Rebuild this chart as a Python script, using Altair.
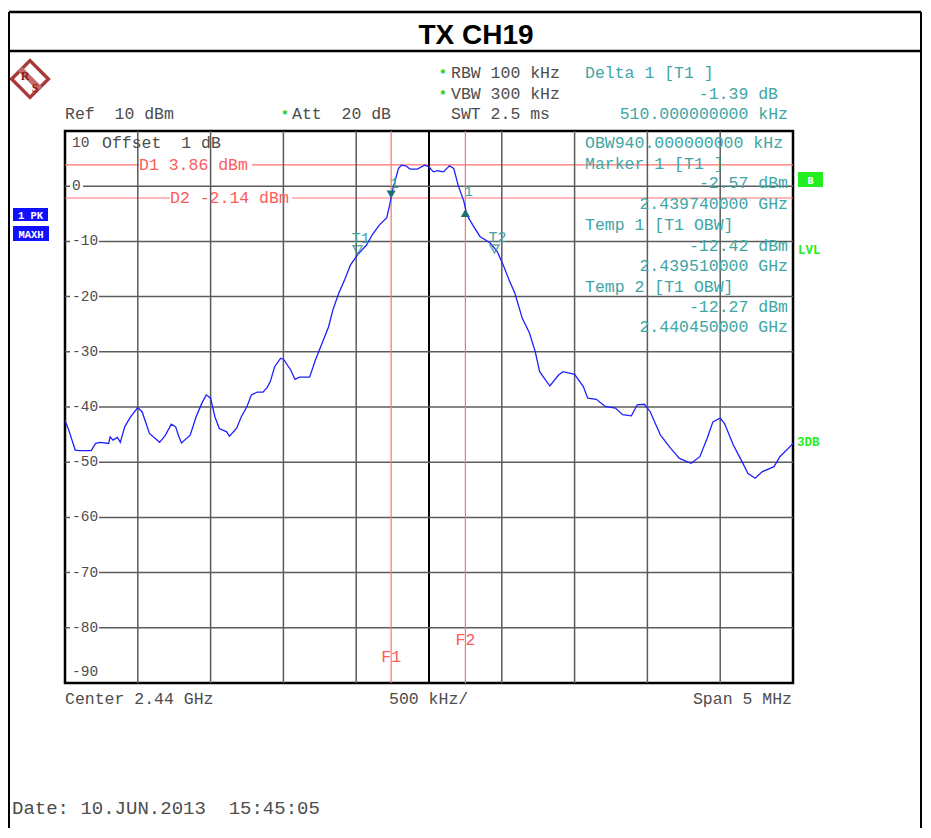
import altair as alt
import pandas as pd

# ---------------- data ----------------
freq_mhz = [2437.50, 2437.53, 2437.57, 2437.60, 2437.68, 2437.71, 2437.74, 2437.80, 2437.81, 2437.83,
            2437.86, 2437.88, 2437.91, 2437.95, 2438.00, 2438.03, 2438.08, 2438.15, 2438.19, 2438.23,
            2438.26, 2438.28, 2438.30, 2438.36, 2438.40, 2438.44, 2438.47, 2438.50, 2438.53, 2438.56,
            2438.61, 2438.63, 2438.68, 2438.71, 2438.75, 2438.78, 2438.82, 2438.86, 2438.89, 2438.91,
            2438.94, 2438.98, 2439.00, 2439.05, 2439.08, 2439.11, 2439.18, 2439.22, 2439.26, 2439.31,
            2439.34, 2439.38, 2439.42, 2439.46, 2439.51, 2439.57, 2439.61, 2439.66, 2439.71, 2439.73,
            2439.75, 2439.79, 2439.81, 2439.84, 2439.87, 2439.92, 2439.97, 2440.00, 2440.03, 2440.06,
            2440.10, 2440.14, 2440.17, 2440.20, 2440.24, 2440.26, 2440.30, 2440.35, 2440.42, 2440.47,
            2440.51, 2440.55, 2440.59, 2440.64, 2440.69, 2440.73, 2440.76, 2440.83, 2440.89, 2440.92,
            2441.00, 2441.06, 2441.09, 2441.15, 2441.21, 2441.28, 2441.33, 2441.39, 2441.43, 2441.48,
            2441.52, 2441.59, 2441.66, 2441.72, 2441.80, 2441.86, 2441.91, 2441.95, 2442.00, 2442.03,
            2442.09, 2442.15, 2442.19, 2442.24, 2442.29, 2442.37, 2442.41, 2442.49, 2442.50]
level_dbm = [-42.4, -44.5, -47.8, -47.9, -47.9, -46.6, -46.4, -46.6, -45.4, -46.0,
             -45.5, -46.4, -43.6, -41.8, -40.1, -40.9, -44.8, -46.4, -45.1, -43.1,
             -43.6, -45.2, -46.5, -45.1, -41.8, -39.3, -37.8, -38.4, -41.8, -43.9,
             -44.5, -45.3, -43.8, -41.8, -39.9, -37.8, -37.3, -37.3, -36.4, -35.4,
             -32.7, -31.2, -31.3, -33.3, -35.0, -34.6, -34.6, -31.5, -28.8, -25.5,
             -22.4, -19.4, -17.0, -14.3, -12.4, -10.7, -8.8, -7.0, -5.7, -3.4,
             -0.7, 3.2, 3.8, 3.7, 3.1, 3.1, 3.8, 3.5, 2.6, 2.8,
             2.6, 3.7, 3.2, 0.2, -2.8, -5.2, -7.0, -9.1, -10.3, -11.9,
             -14.3, -17.0, -19.4, -23.9, -26.6, -30.0, -33.6, -36.2, -34.2, -33.6,
             -34.1, -36.3, -38.4, -38.6, -39.9, -40.2, -41.4, -41.6, -39.6, -39.5,
             -40.9, -45.1, -47.5, -49.3, -50.2, -49.0, -45.7, -42.7, -42.0, -43.0,
             -46.9, -49.9, -52.0, -52.9, -51.7, -50.8, -49.0, -46.9, -46.5]

marker_label = ["T1", "T2", "1", "1"]
marker_freq = [2439.51, 2440.45, 2439.74, 2440.25]
marker_level = [-12.42, -12.27, -2.57, -3.96]

display_label = ["D1 3.86 dBm", "D2 -2.14 dBm"]
display_level = [3.86, -2.14]

freq_line_label = ["F1", "F2"]
freq_line_value = [2439.74, 2440.25]

grid_freq = [2438.0, 2438.5, 2439.0, 2439.5, 2440.5, 2441.0, 2441.5, 2442.0]
center_freq = [2440.0]
grid_level = [0, -10, -20, -30, -40, -50, -60, -70, -80]
ylabel_value = [0, -10, -20, -30, -40, -50, -60, -70, -80]
ylabel_text = ["0", "-10", "-20", "-30", "-40", "-50", "-60", "-70", "-80"]

# ---------------- layout ----------------
W, H = 728, 552
OX, OY = 65, 131           # page position of the plot area
MONO = "Liberation Mono"
GRAY = "#4d4d4d"
TEAL = "#3ea6a6"
RED = "#ff5a5a"
RED_LINE = "#ff7070"
GRID = "#5c5c5c"
SP = "\u00a0"

xs = alt.Scale(domain=[2437.5, 2442.5], nice=False, zero=False)
ys = alt.Scale(domain=[-90, 10], nice=False, zero=False)
ONE = pd.DataFrame({"d": [0]})


def nb(s):
    return s.replace(" ", SP)


def px_rule(x1, y1, x2, y2, color, width):
    return alt.Chart(ONE).mark_rule(color=color, strokeWidth=width).encode(
        x=alt.value(x1 - OX), y=alt.value(y1 - OY), x2=alt.value(x2 - OX), y2=alt.value(y2 - OY))


def px_rect(x1, y1, x2, y2, fill):
    return alt.Chart(ONE).mark_rect(fill=fill).encode(
        x=alt.value(x1 - OX), y=alt.value(y1 - OY), x2=alt.value(x2 - OX), y2=alt.value(y2 - OY))


def texts(rows, **kw):
    kw.setdefault("baseline", "alphabetic")
    df = pd.DataFrame({"t": [nb(r[0]) for r in rows],
                       "px": [r[1] - OX for r in rows],
                       "py": [r[2] - OY for r in rows]})
    return alt.Chart(df).mark_text(**kw).encode(
        x=alt.X("px:Q", scale=None, axis=None),
        y=alt.Y("py:Q", scale=None, axis=None),
        text="t:N")


trace = pd.DataFrame({"f": freq_mhz, "l": level_dbm})
markers = pd.DataFrame({"m": marker_label, "f": marker_freq, "l": marker_level})
dlines = pd.DataFrame({"lab": [nb(s) for s in display_label], "l": display_level,
                       "bx0": [139 - OX, 170 - OX], "bx1": [252 - OX, 292 - OX]})
flines = pd.DataFrame({"lab": freq_line_label, "f": freq_line_value})
vgrid = pd.DataFrame({"f": grid_freq})
cgrid = pd.DataFrame({"f": center_freq})
hgrid = pd.DataFrame({"l": grid_level})
ylab = pd.DataFrame({"v": ylabel_value, "t": ylabel_text})

layers = []

# display lines D1 / D2
layers.append(alt.Chart(dlines).mark_rule(color=RED_LINE, strokeWidth=1.2).encode(
    y=alt.Y("l:Q", scale=ys, axis=None), x=alt.value(0), x2=alt.value(W)))
layers.append(alt.Chart(dlines).transform_calculate(lo="datum.l - 1.2", hi="datum.l + 1.2")
              .mark_rect(fill="white").encode(
    x=alt.X("bx0:Q", scale=None, axis=None), x2="bx1:Q",
    y=alt.Y("lo:Q", scale=ys, axis=None), y2="hi:Q"))

# grid
layers.append(alt.Chart(vgrid).mark_rule(color=GRID, strokeWidth=1.5).encode(
    x=alt.X("f:Q", scale=xs, axis=None), y=alt.value(0), y2=alt.value(H)))
layers.append(alt.Chart(cgrid).mark_rule(color="black", strokeWidth=2).encode(
    x=alt.X("f:Q", scale=xs, axis=None), y=alt.value(0), y2=alt.value(H)))
layers.append(alt.Chart(hgrid).mark_rule(color=GRID, strokeWidth=1.5).encode(
    y=alt.Y("l:Q", scale=ys, axis=None), x=alt.value(0), x2=alt.value(W)))

# y labels with white background
layers.append(alt.Chart(ylab).transform_calculate(
    lo="datum.v - 1.25", hi="datum.v + 1.25",
    x1="5", x2="datum.t == '0' ? 18 : 34").mark_rect(fill="white").encode(
    x=alt.X("x1:Q", scale=None, axis=None), x2="x2:Q",
    y=alt.Y("lo:Q", scale=ys, axis=None), y2="hi:Q"))
layers.append(alt.Chart(ylab).mark_text(align="left", baseline="middle", font=MONO,
                                        fontSize=14.5, color=GRAY).encode(
    x=alt.value(72 - OX), y=alt.Y("v:Q", scale=ys, axis=None), text="t:N"))
layers.append(texts([("10", 72, 147), ("-90", 72, 676)], align="left", font=MONO,
                    fontSize=14.5, color=GRAY))

# frequency lines F1 / F2
layers.append(alt.Chart(flines).mark_rule(color=RED_LINE, strokeWidth=1.2).encode(
    x=alt.X("f:Q", scale=xs, axis=None), y=alt.value(0), y2=alt.value(H)))

# trace
layers.append(alt.Chart(trace).mark_line(color="#1f1fff", strokeWidth=1.3).encode(
    x=alt.X("f:Q", scale=xs, axis=None), y=alt.Y("l:Q", scale=ys, axis=None)))

# markers
mk = alt.Chart(markers)
layers.append(mk.transform_filter("datum.m != '1'").mark_point(
    shape="triangle-down", size=85, filled=False, color="#2a8a8a", strokeWidth=1.5, yOffset=-5).encode(
    x=alt.X("f:Q", scale=xs, axis=None), y=alt.Y("l:Q", scale=ys, axis=None)))
layers.append(mk.transform_filter("datum.f < 2440").transform_filter("datum.m == '1'").mark_point(
    shape="triangle-down", size=85, filled=True, opacity=1, color="#1f7070", yOffset=-6).encode(
    x=alt.X("f:Q", scale=xs, axis=None), y=alt.Y("l:Q", scale=ys, axis=None)))
layers.append(mk.transform_filter("datum.f > 2440").transform_filter("datum.m == '1'").mark_point(
    shape="triangle-up", size=85, filled=True, opacity=1, color="#1f7070", yOffset=5).encode(
    x=alt.X("f:Q", scale=xs, axis=None), y=alt.Y("l:Q", scale=ys, axis=None)))
layers.append(mk.mark_text(font=MONO, fontSize=15, color=TEAL, dx=3, dy=-12, baseline="alphabetic").encode(
    x=alt.X("f:Q", scale=xs, axis=None), y=alt.Y("l:Q", scale=ys, axis=None), text="m:N"))

# display / frequency line labels
layers.append(alt.Chart(dlines).mark_text(align="left", baseline="middle", font=MONO,
                                          fontSize=16.5, color=RED).encode(
    x=alt.X("bx0:Q", scale=None, axis=None), y=alt.Y("l:Q", scale=ys, axis=None), text="lab:N"))
layers.append(alt.Chart(flines).mark_text(align="center", baseline="alphabetic", font=MONO,
                                          fontSize=16.5, color=RED).encode(
    x=alt.X("f:Q", scale=xs, axis=None),
    y=alt.Y("yy:Q", scale=None, axis=None), text="lab:N").transform_calculate(
    yy="datum.lab == 'F1' ? %d : %d" % (662 - OY, 645 - OY)))

# header / footer texts
layers.append(texts([("Ref  10 dBm", 65, 119), ("Att  20 dB", 292, 119),
                     ("RBW 100 kHz", 451, 78), ("VBW 300 kHz", 451, 99), ("SWT 2.5 ms", 451, 119),
                     ("Offset  1 dB", 102, 148),
                     ("Center 2.44 GHz", 65, 704), ("500 kHz/", 389, 704)],
                    align="left", font=MONO, fontSize=16.5, color=GRAY))
layers.append(texts([("Span 5 MHz", 792, 704)], align="right", font=MONO, fontSize=16.5, color=GRAY))
layers.append(texts([("Date: 10.JUN.2013  15:45:05", 12, 814)], align="left", font=MONO,
                    fontSize=19, color=GRAY))
layers.append(texts([("*", 439, 78), ("*", 439, 99), ("*", 281, 119)], align="left", font=MONO,
                    fontSize=13, fontWeight="bold", color="#22cc22"))
layers.append(texts([("Delta 1 [T1 ]", 585, 78), ("OBW940.000000000 kHz", 585, 148),
                     ("Marker 1 [T1 ]", 585, 169), ("Temp 1 [T1 OBW]", 585, 230),
                     ("Temp 2 [T1 OBW]", 585, 292)],
                    align="left", font=MONO, fontSize=16.5, color=TEAL))
layers.append(texts([("-1.39 dB", 778, 99), ("510.000000000 kHz", 788, 119),
                     ("-2.57 dBm", 788, 188), ("2.439740000 GHz", 788, 209),
                     ("-12.42 dBm", 788, 251), ("2.439510000 GHz", 788, 271),
                     ("-12.27 dBm", 788, 312), ("2.440450000 GHz", 788, 332)],
                    align="right", font=MONO, fontSize=16.5, color=TEAL))

# side badges
layers.append(px_rect(13, 208, 48, 221, "#1010ff"))
layers.append(px_rect(13, 226, 49, 241, "#1010ff"))
layers.append(px_rect(798, 172, 823, 187, "#22ee22"))
layers.append(texts([("1 PK", 30.5, 218.5), ("MAXH", 31, 237.5)], align="center", font=MONO,
                    fontSize=10.5, fontWeight="bold", color="white"))
layers.append(texts([("B", 810.5, 183.5)], align="center", font=MONO, fontSize=10,
                    fontWeight="bold", color="white"))
layers.append(texts([("LVL", 798, 254), ("3DB", 797, 446)], align="left", font=MONO,
                    fontSize=12.5, fontWeight="bold", color="#22ee22"))

# R&S logo
layers.append(alt.Chart(ONE).mark_point(shape="diamond", size=1350, filled=False, color="#a83a3a",
                                        strokeWidth=3.5, opacity=1).encode(
    x=alt.value(30 - OX), y=alt.value(79 - OY)))
layers.append(px_rule(20, 69, 40, 89, "#c46a6a", 6))
layers.append(texts([("R", 25, 80), ("S", 35, 92)], align="center", font="Liberation Serif",
                     fontSize=12, fontWeight="bold", color="#8c1c1c"))

# page frame and title
layers.append(px_rule(9, 12, 9, 828, "black", 2))
layers.append(px_rule(921, 12, 921, 828, "black", 2))
layers.append(px_rule(9, 12, 921, 12, "black", 2.5))
layers.append(px_rule(9, 51, 921, 51, "black", 2.5))
layers.append(texts([("TX CH19", 476, 44)], align="center", font="Liberation Sans",
                    fontSize=28, fontWeight="bold", color="black"))

chart = alt.layer(*layers).resolve_scale(x="independent", y="independent").properties(
    width=W, height=H,
    padding={"left": 57, "top": 123, "right": 130, "bottom": 145},
    autosize=alt.AutoSizeParams(type="none"),
    background="white",
).configure_view(stroke="black", strokeWidth=2.5)

chart.save("out.html", embed_options={"renderer": "svg", "actions": False})
